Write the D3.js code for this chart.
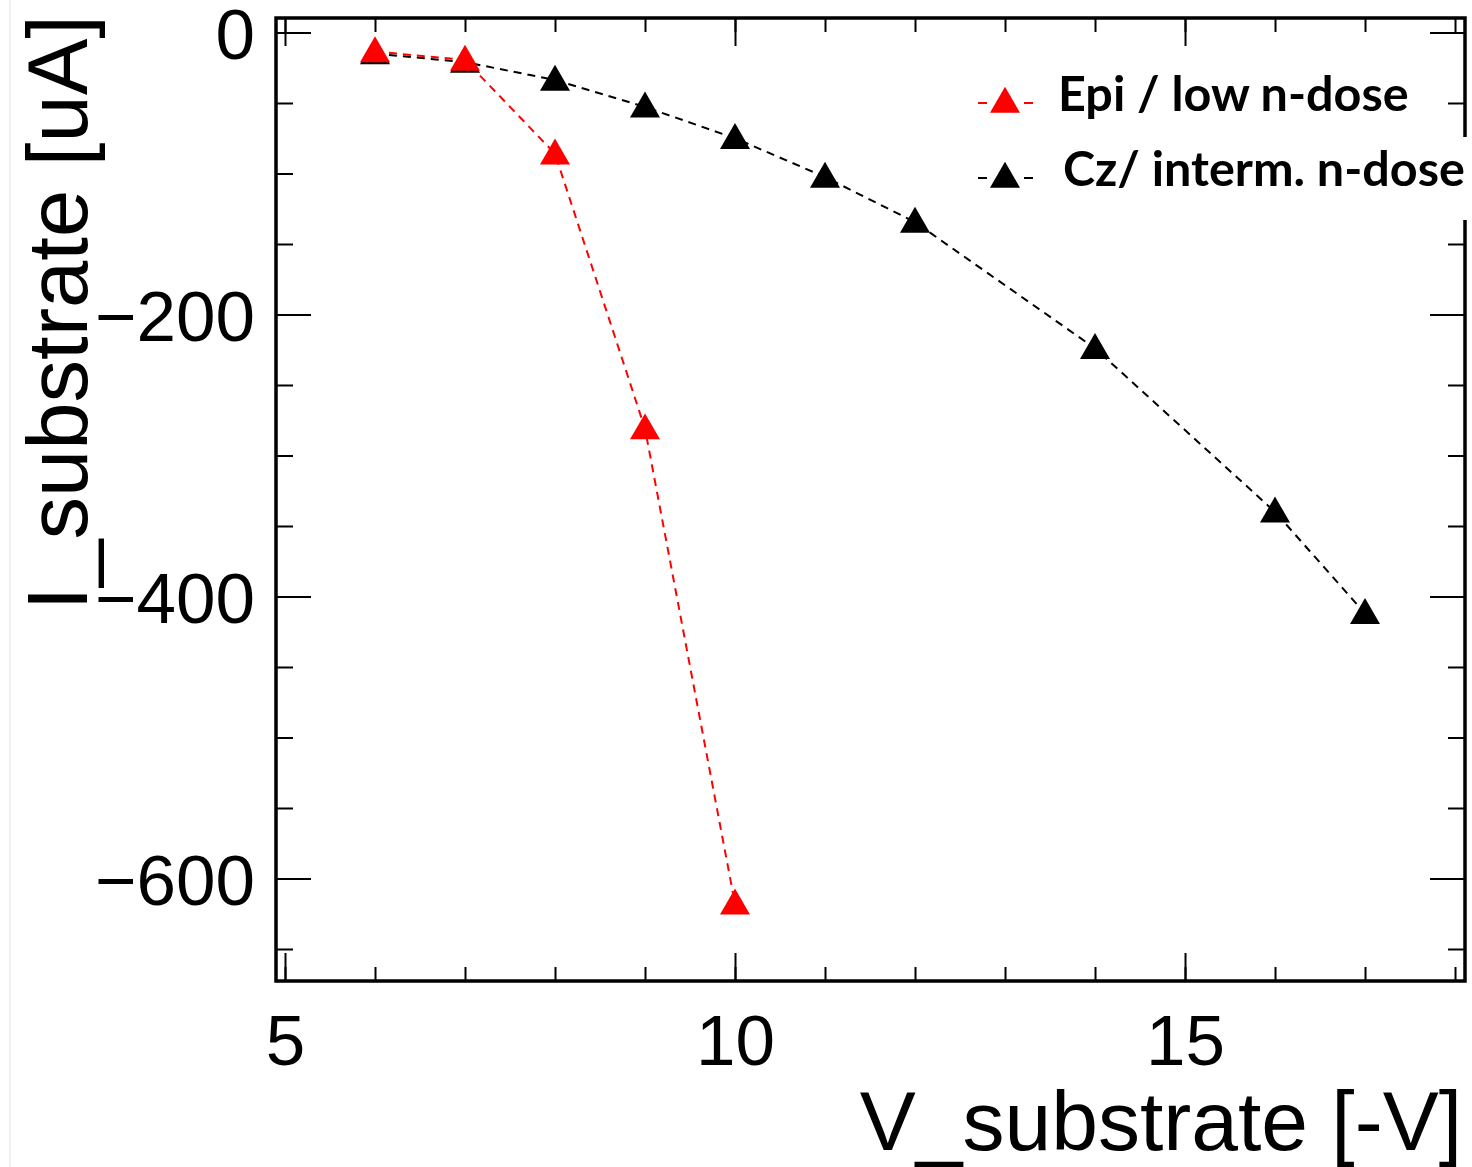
<!DOCTYPE html>
<html>
<head>
<meta charset="utf-8">
<script src="https://cdn.jsdelivr.net/npm/d3@7"></script>
<style>
  body { margin: 0; background: #fff; }
  svg { display: block; }
</style>
</head>
<body>
<div id="graph"></div>
<script>
// data
var voltsEpi = [6, 7, 8, 9, 10];
var currentEpi = [-13.5, -19.5, -86, -281, -618];
var voltsCz = [6, 7, 8, 9, 10, 11, 12, 14, 16, 17];
var currentCz = [-15, -21, -33.7, -52.8, -75, -102.5, -134.5, -224, -340, -412];
var seriesNames = ["Epi / low n-dose", "Cz/ interm. n-dose"];
var xMajorTicks = [5, 10, 15];
var yMajorTicks = [0, -200, -400, -600];

var W = 1472, H = 1167;
var pLeft = 276, pTop = 18, pRight = 1465, pBottom = 981;

var svg = d3.select("#graph").append("svg")
    .attr("width", W)
    .attr("height", H);

var x = d3.scaleLinear().domain([4.9, 18.111]).range([pLeft, pRight]);
var y = d3.scaleLinear().domain([10.28, -672.7]).range([pTop, pBottom]);

var axisFont = "'Liberation Sans', Arial, sans-serif";

// faint page edge on the left
svg.append("line")
    .attr("x1", 10).attr("x2", 10).attr("y1", 0).attr("y2", H)
    .attr("stroke", "#ececec").attr("stroke-width", 1.5);

var xMinor = d3.range(5, 19, 1);
var yMinor = d3.range(0, -700, -50);

function styleAxis(g) {
    g.select(".domain").remove();
    g.selectAll(".tick line").attr("stroke", "#000").attr("stroke-width", 2);
}

// bottom
svg.append("g").attr("transform", "translate(0," + pBottom + ")")
    .call(d3.axisBottom(x).tickValues(xMinor).tickSize(-14).tickFormat(""))
    .call(styleAxis);
svg.append("g").attr("transform", "translate(0," + pBottom + ")")
    .call(d3.axisBottom(x).tickValues(xMajorTicks).tickSize(-28).tickPadding(34).tickFormat(d3.format("d")))
    .call(styleAxis)
    .selectAll("text")
    .style("font-family", axisFont).style("font-size", "71px").attr("fill", "#000");

// top
svg.append("g").attr("transform", "translate(0," + pTop + ")")
    .call(d3.axisTop(x).tickValues(xMinor).tickSize(-14).tickFormat(""))
    .call(styleAxis);
svg.append("g").attr("transform", "translate(0," + pTop + ")")
    .call(d3.axisTop(x).tickValues(xMajorTicks).tickSize(-28).tickFormat(""))
    .call(styleAxis);

// left
svg.append("g").attr("transform", "translate(" + pLeft + ",0)")
    .call(d3.axisLeft(y).tickValues(yMinor).tickSize(-17).tickFormat(""))
    .call(styleAxis);
svg.append("g").attr("transform", "translate(" + pLeft + ",0)")
    .call(d3.axisLeft(y).tickValues(yMajorTicks).tickSize(-35).tickPadding(21).tickFormat(d3.format("d")))
    .call(styleAxis)
    .selectAll("text")
    .attr("dy", "0.37em")
    .style("font-family", axisFont).style("font-size", "71px").attr("fill", "#000");

// right
svg.append("g").attr("transform", "translate(" + pRight + ",0)")
    .call(d3.axisRight(y).tickValues(yMinor).tickSize(-17).tickFormat(""))
    .call(styleAxis);
svg.append("g").attr("transform", "translate(" + pRight + ",0)")
    .call(d3.axisRight(y).tickValues(yMajorTicks).tickSize(-35).tickFormat(""))
    .call(styleAxis);

// frame
svg.append("rect")
    .attr("x", pLeft).attr("y", pTop)
    .attr("width", pRight - pLeft).attr("height", pBottom - pTop)
    .attr("fill", "none").attr("stroke", "#000").attr("stroke-width", 3.5);

// axis titles
svg.append("text")
    .attr("x", 1462).attr("y", 1150)
    .attr("text-anchor", "end")
    .style("font-family", axisFont).style("font-size", "84px")
    .text("V_substrate [-V]");

svg.append("text")
    .attr("transform", "translate(87,15) rotate(-90)")
    .attr("text-anchor", "end")
    .style("font-family", axisFont).style("font-size", "85px")
    .text("I_substrate [uA]");

// series
var tri = d3.symbol().type(d3.symbolTriangle).size(390);
var line = d3.line()
    .x(function(d) { return x(d[0]); })
    .y(function(d) { return y(d[1]); });

var series = [
    { name: seriesNames[0], color: "#ff0000", pts: d3.zip(voltsEpi, currentEpi) },
    { name: seriesNames[1], color: "#000000", pts: d3.zip(voltsCz, currentCz) }
];

// draw black first so red sits on top
[series[1], series[0]].forEach(function(s) {
    svg.append("path")
        .datum(s.pts)
        .attr("d", line)
        .attr("fill", "none")
        .attr("stroke", s.color)
        .attr("stroke-width", 2)
        .attr("stroke-dasharray", "8,6");
});
[series[1], series[0]].forEach(function(s) {
    svg.selectAll(null)
        .data(s.pts)
        .enter().append("path")
        .attr("d", tri)
        .attr("transform", function(d) { return "translate(" + x(d[0]) + "," + (y(d[1]) + 2) + ")"; })
        .attr("fill", s.color);
});

// legend
svg.append("rect")
    .attr("x", 1050).attr("y", 137).attr("width", W - 1050).attr("height", 83)
    .attr("fill", "#fff");

var legY = [103, 178];
var legTextX = [1058, 1063];
series.forEach(function(s, i) {
    var g = svg.append("g");
    g.append("line")
        .attr("x1", 978).attr("x2", 1033)
        .attr("y1", legY[i]).attr("y2", legY[i])
        .attr("stroke", s.color).attr("stroke-width", 2)
        .attr("stroke-dasharray", "9,14");
    g.append("path")
        .attr("d", tri)
        .attr("transform", "translate(1005," + (legY[i] + 1) + ")")
        .attr("fill", s.color);
    g.append("text")
        .attr("x", legTextX[i]).attr("y", legY[i] + 8)
        .style("font-family", "Lato, sans-serif")
        .style("font-weight", "bold")
        .style("font-size", "48.5px")
        .text(s.name);
});
</script>
</body>
</html>
